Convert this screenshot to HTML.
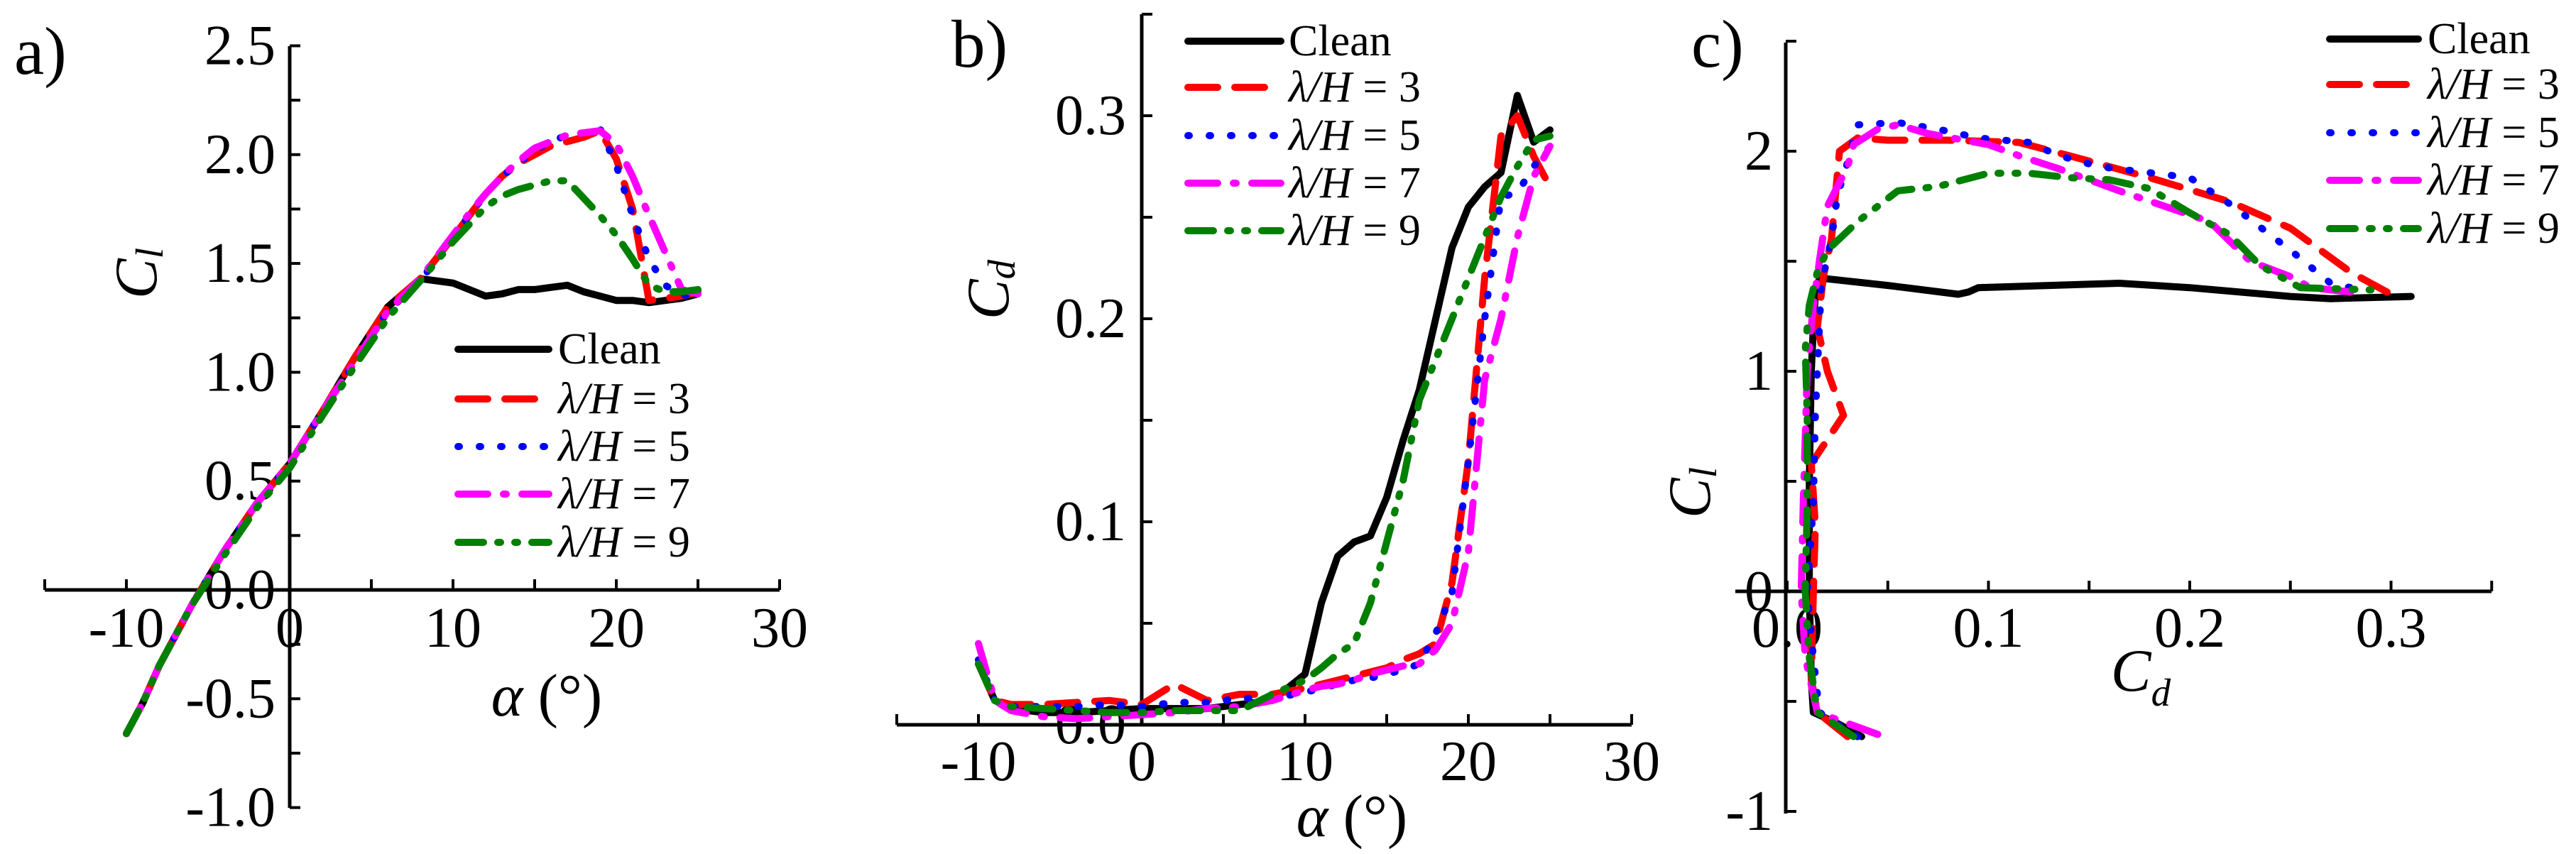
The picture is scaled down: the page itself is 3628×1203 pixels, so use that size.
<!DOCTYPE html>
<html><head><meta charset="utf-8"><style>
html,body{margin:0;padding:0;background:#fff}
svg{display:block;font-family:"Liberation Serif","DejaVu Serif",serif}
text{font-family:"Liberation Serif","DejaVu Serif",serif}
</style></head><body>
<svg id="fig" width="3628" height="1203" viewBox="0 0 3628 1203" font-family="Liberation Serif, DejaVu Serif, serif"></svg>
<script>
// ---- data: panel a (Cl vs alpha) and b (Cd vs alpha) ----
const alpha = [-10,-9,-8,-6,-4,-2,0,2,4,6,8,10,11,12,13,14,15,16,17,18,19,20,21,22,23,24,25];
const clClean = [-0.66,-0.52,-0.35,-0.07,0.18,0.40,0.58,0.82,1.07,1.30,1.43,1.41,1.38,1.35,1.36,1.38,1.38,1.39,1.40,1.37,1.35,1.33,1.33,1.32,1.33,1.34,1.36];
const clL3 = [-0.66,-0.52,-0.35,-0.07,0.18,0.40,0.58,0.82,1.07,1.30,1.43,1.62,1.72,1.82,1.90,1.96,2.00,2.04,2.06,2.08,2.11,1.98,1.75,1.33,1.34,1.35,1.37];
const clL5 = [-0.66,-0.52,-0.35,-0.07,0.18,0.40,0.58,0.82,1.05,1.28,1.42,1.62,1.72,1.82,1.90,1.96,2.02,2.06,2.09,2.10,2.12,1.95,1.72,1.52,1.40,1.35,1.37];
const clL7 = [-0.66,-0.52,-0.35,-0.07,0.18,0.40,0.58,0.82,1.05,1.28,1.43,1.63,1.73,1.82,1.90,1.97,2.03,2.06,2.09,2.10,2.11,2.05,1.90,1.72,1.55,1.38,1.36];
const clL9 = [-0.66,-0.52,-0.35,-0.07,0.16,0.38,0.56,0.80,1.03,1.25,1.42,1.60,1.68,1.76,1.81,1.84,1.86,1.88,1.88,1.80,1.72,1.63,1.52,1.40,1.37,1.37,1.38];
const cdClean = [0.030,0.012,0.008,0.006,0.006,0.007,0.008,0.008,0.008,0.010,0.012,0.025,0.060,0.083,0.090,0.093,0.112,0.140,0.165,0.200,0.235,0.255,0.265,0.272,0.310,0.287,0.293];
const cdL3 = [0.030,0.012,0.010,0.010,0.011,0.012,0.010,0.020,0.012,0.015,0.015,0.018,0.020,0.022,0.024,0.026,0.028,0.032,0.035,0.040,0.070,0.130,0.220,0.290,0.300,0.280,0.265];
const cdL5 = [0.032,0.012,0.009,0.009,0.009,0.010,0.009,0.011,0.011,0.013,0.013,0.016,0.018,0.020,0.022,0.023,0.025,0.027,0.030,0.045,0.065,0.130,0.200,0.260,0.262,0.275,0.285];
const cdL7 = [0.040,0.012,0.007,0.004,0.003,0.004,0.005,0.006,0.008,0.009,0.012,0.017,0.019,0.020,0.022,0.025,0.027,0.029,0.030,0.037,0.050,0.085,0.170,0.200,0.240,0.270,0.285];
const cdL9 = [0.030,0.012,0.009,0.008,0.007,0.006,0.006,0.007,0.007,0.007,0.015,0.022,0.028,0.035,0.040,0.060,0.090,0.120,0.160,0.180,0.200,0.220,0.240,0.260,0.275,0.288,0.290];
// ---- data: panel c (Cl vs Cd, drag polar) ----
const pcCdClean = [0.037,0.025,0.013,0.012,0.011,0.011,0.012,0.013,0.014,0.016,0.020,0.050,0.085,0.090,0.095,0.130,0.165,0.200,0.250,0.270,0.310];
const pcClClean = [-0.66,-0.60,-0.55,-0.40,0.00,0.50,1.00,1.20,1.35,1.42,1.42,1.39,1.35,1.36,1.38,1.39,1.40,1.38,1.34,1.33,1.34];
const pcCdL3 = [0.030,0.015,0.012,0.013,0.014,0.012,0.028,0.020,0.015,0.018,0.022,0.024,0.026,0.035,0.050,0.080,0.115,0.140,0.180,0.220,0.250,0.280,0.300];
const pcClL3 = [-0.66,-0.55,-0.40,0.00,0.30,0.58,0.80,1.00,1.20,1.43,1.60,1.80,2.00,2.06,2.05,2.05,2.04,1.98,1.88,1.77,1.65,1.45,1.35];
const pcCdL5 = [0.035,0.016,0.013,0.010,0.013,0.014,0.016,0.017,0.022,0.025,0.030,0.035,0.055,0.075,0.095,0.120,0.135,0.155,0.200,0.220,0.250,0.270,0.285];
const pcClL5 = [-0.66,-0.55,-0.30,0.00,0.40,0.80,1.20,1.40,1.60,1.80,1.95,2.12,2.13,2.10,2.06,2.04,1.98,1.93,1.88,1.76,1.55,1.40,1.37];
const pcCdL7 = [0.045,0.015,0.009,0.007,0.008,0.009,0.010,0.013,0.016,0.020,0.030,0.033,0.045,0.055,0.070,0.100,0.115,0.135,0.165,0.210,0.230,0.250,0.260,0.280];
const pcClL7 = [-0.65,-0.55,-0.30,0.00,0.40,0.70,1.00,1.30,1.50,1.75,1.93,2.03,2.10,2.12,2.08,2.03,1.98,1.92,1.82,1.68,1.50,1.43,1.38,1.36];
const pcCdL9 = [0.033,0.015,0.011,0.009,0.010,0.010,0.009,0.011,0.015,0.020,0.035,0.055,0.075,0.100,0.120,0.140,0.160,0.180,0.200,0.220,0.235,0.255,0.290];
const pcClL9 = [-0.66,-0.55,-0.30,0.00,0.40,0.80,1.10,1.30,1.45,1.55,1.68,1.82,1.84,1.90,1.90,1.88,1.87,1.83,1.72,1.62,1.48,1.38,1.37];
// tick labels
const ticksA_x = [-10,0,10,20,30];
const ticksA_y = [-1.0,-0.5,0.0,0.5,1.0,1.5,2.0,2.5];
const ticksB_x = [-10,0,10,20,30];
const ticksB_y = [0.0,0.1,0.2,0.3];
const ticksC_x = [0.0,0.1,0.2,0.3];
const ticksC_y = [-1,0,1,2];
const legendLabels = ["Clean","λ/H = 3","λ/H = 5","λ/H = 7","λ/H = 9"];

const NS = "http://www.w3.org/2000/svg";
const FF = "Liberation Serif, DejaVu Serif, serif";
const svg = document.getElementById('fig');
function mk(tag, attrs, parent){
  const e = document.createElementNS(NS, tag);
  for (const k in attrs) e.setAttribute(k, attrs[k]);
  if (tag === 'text') e.setAttribute('font-family', FF);
  (parent||svg).appendChild(e);
  return e;
}
const styles = [
  {c:"#000000", d:""},
  {c:"#ff0000", d:"42,24"},
  {c:"#0000ff", d:"2,28"},
  {c:"#ff00ff", d:"42,22,4,22"},
  {c:"#008000", d:"36,20,4,20,4,20"}
];
const serNames = ["clean","lambda-h-3","lambda-h-5","lambda-h-7","lambda-h-9"];

function panel(p){
  const g = mk('g', {});
  
  
  const sx = v => p.x0 + (v - p.xv0) * p.kx;
  const sy = v => p.y0 - (v - p.yv0) * p.ky;
  const xa = mk('line', {x1:p.xl0, x2:p.xl1, y1:p.axY, y2:p.axY, stroke:"#000", "stroke-width":5}, g);
  
  
  const ya = mk('line', {x1:p.axX, x2:p.axX, y1:p.yl0, y2:p.yl1, stroke:"#000", "stroke-width":5}, g);
  
  
  for (let v = p.xtStart; v <= p.xtEnd + 1e-9; v += p.xtStep) {
    mk('line', {x1:sx(v), x2:sx(v), y1:p.axY, y2:p.axY-15, stroke:"#000", "stroke-width":4}, g);
  }
  for (let v = p.ytStart; v <= p.ytEnd + 1e-9; v += p.ytStep) {
    mk('line', {x1:p.axX, x2:p.axX+15, y1:sy(v), y2:sy(v), stroke:"#000", "stroke-width":4}, g);
  }
  p.xt.forEach(v => {
    const t = mk('text', {x:sx(v), y:p.xlabY, "font-size":80, "text-anchor":"middle", "dominant-baseline":"central"}, g);
    t.textContent = p.xfmt(v);
    
    
  });
  p.yt.forEach(v => {
    const t = mk('text', {x:p.ylabX, y:sy(v), "font-size":80, "text-anchor":"end", "dominant-baseline":"central"}, g);
    t.textContent = p.yfmt(v);
    
    
  });
  p.series.forEach((s, i) => {
    const pts = s.x.map((xv, j) => sx(xv).toFixed(1) + "," + sy(s.y[j]).toFixed(1)).join(" ");
    const pl = mk('polyline', {points:pts, fill:"none", stroke:styles[i].c, "stroke-width":10,
      "stroke-linecap":"round", "stroke-linejoin":"round"}, g);
    if (styles[i].d) pl.setAttribute('stroke-dasharray', styles[i].d);
    
    
  });
  const lg = mk('g', {}, g);
  
  
  legendLabels.forEach((lab, i) => {
    const y = p.legY[i];
    const ln = mk('line', {x1:p.legX0, x2:p.legX1, y1:y, y2:y, stroke:styles[i].c, "stroke-width":10, "stroke-linecap":"round"}, lg);
    if (styles[i].d) ln.setAttribute('stroke-dasharray', styles[i].d);
    
    
    const t = mk('text', {x:p.legTX, y:y, "font-size":62, "dominant-baseline":"central"}, lg);
    if (i === 0) t.textContent = lab;
    else {
      const parts = lab.split(" = ");
      const a = mk('tspan', {"font-style":"italic"}, t); a.textContent = parts[0];
      const b = mk('tspan', {}, t); b.textContent = " = " + parts[1];
    }
    
    
  });
}

panel({name:"panel-a-lift-curve", x0:408, xv0:0, kx:23, y0:831, yv0:0, ky:306.6,
  xl0:63, xl1:1098, axY:831, axX:408, yl0:65, yl1:1138,
  xtStart:-15, xtEnd:30, xtStep:5, ytStart:-1, ytEnd:2.5, ytStep:0.25,
  xt:ticksA_x, yt:ticksA_y, xlabY:885, ylabX:388, xfmt:v=>String(v), yfmt:v=>v.toFixed(1),
  series:[{x:alpha,y:clClean},{x:alpha,y:clL3},{x:alpha,y:clL5},{x:alpha,y:clL7},{x:alpha,y:clL9}],
  legX0:645, legX1:773, legTX:786, legY:[492,562,629,696,764]});

panel({name:"panel-b-drag-curve", x0:1608, xv0:0, kx:23, y0:1021, yv0:0, ky:2860,
  xl0:1263, xl1:2298, axY:1021, axX:1608, yl0:20, yl1:1021,
  xtStart:-15, xtEnd:30, xtStep:5, ytStart:0, ytEnd:0.35, ytStep:0.05,
  xt:ticksB_x, yt:ticksB_y, xlabY:1073, ylabX:1586, xfmt:v=>String(v), yfmt:v=>v.toFixed(1),
  series:[{x:alpha,y:cdClean},{x:alpha,y:cdL3},{x:alpha,y:cdL5},{x:alpha,y:cdL7},{x:alpha,y:cdL9}],
  legX0:1673, legX1:1804, legTX:1815, legY:[58,123,191,258,325]});

panel({name:"panel-c-drag-polar", x0:2517, xv0:0, kx:2835, y0:833, yv0:0, ky:310,
  xl0:2444, xl1:3509, axY:833, axX:2515, yl0:60, yl1:1146,
  xtStart:0, xtEnd:0.35, xtStep:0.05, ytStart:-1, ytEnd:2.5, ytStep:0.5,
  xt:ticksC_x, yt:ticksC_y, xlabY:885, ylabX:2497, xfmt:v=>v.toFixed(1), yfmt:v=>String(v),
  series:[{x:pcCdClean,y:pcClClean},{x:pcCdL3,y:pcClL3},{x:pcCdL5,y:pcClL5},{x:pcCdL7,y:pcClL7},{x:pcCdL9,y:pcClL9}],
  legX0:3281, legX1:3406, legTX:3419, legY:[55,119,187,254,322]});

function txt(x, y, size, content, name, extra){
  const t = mk('text', Object.assign({x:x, y:y, "font-size":size, "dominant-baseline":"central"}, extra||{}));
  t.innerHTML = content;
  
  
  return t;
}
txt(20, 72, 95, "a)", "panel-label-a");
txt(1340, 62, 95, "b)", "panel-label-b");
txt(2382, 62, 95, "c)", "panel-label-c");
txt(192, 385, 85, '<tspan font-style="italic">C</tspan><tspan font-style="italic" font-size="55" dy="18">l</tspan>', "y-axis-title-a", {"text-anchor":"middle", transform:"rotate(-90 192 385)"});
txt(770, 980, 85, '<tspan font-style="italic">α</tspan> (°)', "x-axis-title-a", {"text-anchor":"middle"});
txt(1392, 408, 85, '<tspan font-style="italic">C</tspan><tspan font-style="italic" font-size="55" dy="18">d</tspan>', "y-axis-title-b", {"text-anchor":"middle", transform:"rotate(-90 1392 408)"});
txt(1904, 1150, 85, '<tspan font-style="italic">α</tspan> (°)', "x-axis-title-b", {"text-anchor":"middle"});
txt(2380, 694, 85, '<tspan font-style="italic">C</tspan><tspan font-style="italic" font-size="55" dy="18">l</tspan>', "y-axis-title-c", {"text-anchor":"middle", transform:"rotate(-90 2380 694)"});
txt(3015, 945, 85, '<tspan font-style="italic">C</tspan><tspan font-style="italic" font-size="55" dy="30">d</tspan>', "x-axis-title-c", {"text-anchor":"middle"});
</script>
</body></html>
